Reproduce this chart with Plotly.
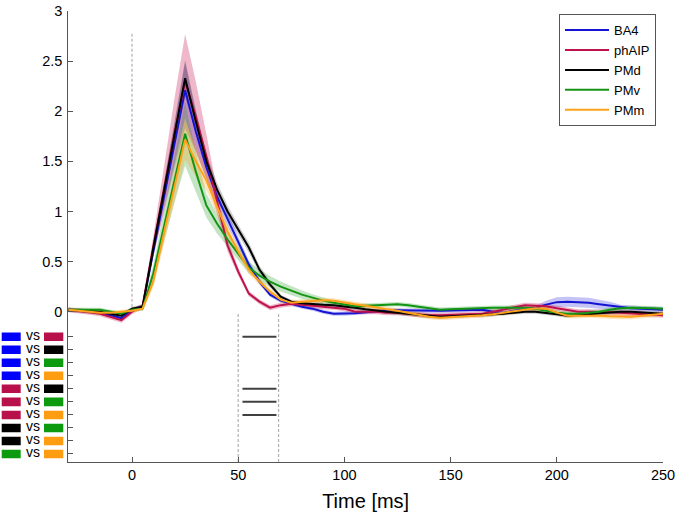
import plotly.graph_objects as go

# ---------------- data ----------------
time_ms = list(range(-30, 251, 5))

series_names = ["BA4", "phAIP", "PMd", "PMv", "PMm"]

ba4 = [0.02, 0.01, 0.0, -0.01, -0.035, -0.065, 0.02, 0.05, 0.6, 1.14, 1.68, 2.21,
       1.8, 1.44, 1.15, 0.92, 0.7, 0.47, 0.3, 0.17, 0.11, 0.08, 0.05, 0.03, 0.0,
       -0.02, -0.02, -0.015, -0.005, 0.005, 0.015, 0.015, 0.012, 0.01, 0.01, 0.01,
       0.012, 0.015, 0.02, 0.02, 0.0, -0.01, 0.01, 0.025, 0.04, 0.07, 0.095, 0.1,
       0.095, 0.09, 0.075, 0.06, 0.045, 0.035, 0.03, 0.025, 0.02]
phaip = [0.02, 0.01, -0.005, -0.02, -0.05, -0.085, 0.0, 0.06, 0.65, 1.22, 1.78, 2.30,
         1.95, 1.55, 1.1, 0.66, 0.4, 0.18, 0.1, 0.04, 0.065, 0.08, 0.07, 0.06, 0.05,
         0.045, 0.03, 0.0, 0.0, 0.0, -0.01, -0.01, -0.02, -0.03, -0.035, -0.035,
         -0.03, -0.025, -0.02, -0.02, 0.0, 0.02, 0.045, 0.065, 0.06, 0.055, 0.035,
         0.015, 0.0, 0.0, 0.0, -0.005, -0.01, -0.015, -0.02, -0.03, -0.035]
pmd = [0.02, 0.015, 0.005, 0.0, -0.02, -0.04, 0.03, 0.05, 0.63, 1.2, 1.77, 2.33,
       1.9, 1.5, 1.22, 1.0, 0.82, 0.64, 0.42, 0.27, 0.15, 0.10, 0.085, 0.075, 0.07,
       0.065, 0.055, 0.04, 0.025, 0.01, 0.0, -0.01, -0.02, -0.035, -0.045, -0.05,
       -0.045, -0.04, -0.035, -0.035, -0.03, -0.02, -0.01, 0.0, 0.0, -0.01, -0.025,
       -0.04, -0.035, -0.025, -0.015, -0.005, 0.0, 0.0, -0.005, -0.01, -0.02]
pmv = [0.02, 0.02, 0.02, 0.02, 0.0, -0.02, 0.02, 0.03, 0.38, 0.85, 1.32, 1.775,
       1.4, 1.06, 0.88, 0.72, 0.58, 0.44, 0.36, 0.3, 0.25, 0.21, 0.17, 0.14, 0.11,
       0.09, 0.07, 0.055, 0.06, 0.065, 0.07, 0.075, 0.065, 0.05, 0.035, 0.02, 0.025,
       0.03, 0.035, 0.04, 0.04, 0.04, 0.04, 0.04, 0.03, 0.01, -0.01, -0.02, -0.02,
       -0.01, 0.0, 0.02, 0.035, 0.04, 0.04, 0.035, 0.03]
pmm = [0.02, 0.01, 0.0, -0.01, -0.01, 0.0, 0.01, 0.03, 0.3, 0.78, 1.25, 1.715,
       1.5, 1.31, 1.05, 0.8, 0.6, 0.42, 0.3, 0.2, 0.12, 0.09, 0.1, 0.11, 0.115,
       0.11, 0.09, 0.075, 0.06, 0.04, 0.025, 0.01, -0.01, -0.03, -0.05, -0.06,
       -0.055, -0.045, -0.04, -0.035, -0.025, -0.01, 0.0, 0.015, 0.035, 0.03, -0.01,
       -0.04, -0.04, -0.035, -0.04, -0.045, -0.05, -0.05, -0.04, -0.03, -0.02]

# half-widths of the shaded confidence bands
ba4_ci = [0.02] * 8 + [0.06, 0.12, 0.2, 0.28, 0.2, 0.12, 0.09, 0.07, 0.05, 0.04, 0.03] + \
         [0.02] * 26 + [0.04, 0.05, 0.05, 0.05, 0.05, 0.045, 0.04] + [0.025] * 5
phaip_ci = [0.025] * 8 + [0.1, 0.22, 0.35, 0.47, 0.35, 0.22, 0.12, 0.06, 0.04] + [0.025] * 40
pmd_ci = [0.02] * 8 + [0.05, 0.09, 0.13, 0.18, 0.12, 0.08, 0.07, 0.06, 0.05, 0.05, 0.04, 0.03] + \
         [0.02] * 37
pmv_ci = [0.02] * 8 + [0.08, 0.15, 0.23, 0.32, 0.2, 0.12, 0.1, 0.08, 0.07, 0.06, 0.06, 0.055,
                       0.05, 0.045, 0.04, 0.035, 0.03] + [0.022] * 32
pmm_ci = [0.02] * 8 + [0.06, 0.1, 0.15, 0.2, 0.15, 0.1, 0.08, 0.06, 0.05, 0.045, 0.035, 0.03] + \
         [0.025] * 37

means = [ba4, phaip, pmd, pmv, pmm]
cis = [ba4_ci, phaip_ci, pmd_ci, pmv_ci, pmm_ci]

# pairwise comparisons (rows below the curves) and significant windows
pairs = [("BA4", "phAIP"), ("BA4", "PMd"), ("BA4", "PMv"), ("BA4", "PMm"),
         ("phAIP", "PMd"), ("phAIP", "PMv"), ("phAIP", "PMm"),
         ("PMd", "PMv"), ("PMd", "PMm"), ("PMv", "PMm")]
sig_start = [52, None, None, None, 52, 52, 52, None, None, None]
sig_end = [68, None, None, None, 68, 68, 68, None, None, None]
window_lines = [50, 69]

y_ticks = [0, 0.5, 1, 1.5, 2, 2.5, 3]
y_ticklabels = ["0", "0.5", "1", "1.5", "2", "2.5", "3"]
x_ticks = [0, 50, 100, 150, 200, 250]

# ---------------- style ----------------
line_colors = {"BA4": "#1414d2", "phAIP": "#c0124a", "PMd": "#000000",
               "PMv": "#149414", "PMm": "#ffa21a"}
box_colors = {"BA4": "#0000ff", "phAIP": "#b8104a", "PMd": "#000000",
              "PMv": "#0e9a0e", "PMm": "#ff9d12"}
band_colors = {"BA4": "rgba(40,40,220,0.28)", "phAIP": "rgba(200,20,80,0.30)",
               "PMd": "rgba(0,0,0,0.20)", "PMv": "rgba(20,150,20,0.25)",
               "PMm": "rgba(255,160,20,0.28)"}

FONT = "Liberation Sans, Arial, Helvetica, sans-serif"
row_top, row_step = -0.25, 0.13
row_y = [row_top - i * row_step for i in range(len(pairs))]

LEFT_PX, PLOT_W = 68.3, 663.0

fig = go.Figure()

# dashed reference lines
fig.add_trace(go.Scatter(x=[0, 0], y=[0, 2.78], mode="lines",
                         line=dict(color="#b0b0b0", width=1.2, dash="3px,2px"),
                         showlegend=False, hoverinfo="skip"))
for wl in window_lines:
    fig.add_trace(go.Scatter(x=[wl, wl], y=[-1.5, -0.01], mode="lines",
                             line=dict(color="#b0b0b0", width=1.2, dash="3px,2px"),
                             showlegend=False, hoverinfo="skip"))

# bands
for name, m, c in zip(series_names, means, cis):
    up = [a + b for a, b in zip(m, c)]
    lo = [a - b for a, b in zip(m, c)]
    fig.add_trace(go.Scatter(x=time_ms + time_ms[::-1], y=up + lo[::-1],
                             fill="toself", fillcolor=band_colors[name],
                             line=dict(width=0), mode="lines",
                             showlegend=False, hoverinfo="skip"))

# mean lines
for name, m in zip(series_names, means):
    fig.add_trace(go.Scatter(x=time_ms, y=m, mode="lines", name=name,
                             line=dict(color=line_colors[name], width=2)))

# significance bars
for yv, s, e in zip(row_y, sig_start, sig_end):
    if s is not None:
        fig.add_trace(go.Scatter(x=[s, e], y=[yv, yv], mode="lines",
                                 line=dict(color="#404040", width=2),
                                 showlegend=False, hoverinfo="skip"))

# comparison labels (colored boxes + "vs") on a helper axis in the left margin
fig.add_trace(go.Bar(orientation="h", y=row_y, x=[19] * len(pairs), base=[1.7] * len(pairs),
                     width=0.085, marker=dict(color=[box_colors[a] for a, b in pairs], line=dict(width=0)),
                     xaxis="x2", yaxis="y", showlegend=False, hoverinfo="skip"))
fig.add_trace(go.Bar(orientation="h", y=row_y, x=[19.3] * len(pairs), base=[44] * len(pairs),
                     width=0.085, marker=dict(color=[box_colors[b] for a, b in pairs], line=dict(width=0)),
                     xaxis="x2", yaxis="y", showlegend=False, hoverinfo="skip"))
fig.add_trace(go.Scatter(x=[33] * len(pairs), y=row_y, mode="text", text=["vs"] * len(pairs),
                         textfont=dict(family=FONT, size=14, color="black"),
                         xaxis="x2", yaxis="y", showlegend=False, hoverinfo="skip",
                         cliponaxis=False))

fig.update_layout(
    width=677, height=516,
    margin=dict(l=0, r=677 - PLOT_W, t=11, b=54),
    paper_bgcolor="white", plot_bgcolor="white",
    font=dict(family=FONT, color="black"),
    barmode="overlay",
    showlegend=True,
    hovermode=False,
    xaxis=dict(domain=[LEFT_PX / PLOT_W, 1], range=[-30, 250], tickvals=x_ticks,
               ticks="inside", ticklen=5, tickcolor="#555", showline=True,
               linecolor="#555", linewidth=1, showgrid=False, zeroline=False,
               tickfont=dict(size=14.5), anchor="y", ticklabelstandoff=0,
               title=dict(text="Time [ms]", font=dict(size=20), standoff=11)),
    xaxis2=dict(domain=[0, LEFT_PX / PLOT_W], range=[0, LEFT_PX], visible=False, anchor="y",
                fixedrange=True),
    yaxis=dict(range=[-1.5, 3], tickvals=y_ticks + row_y,
               ticktext=y_ticklabels + [""] * len(row_y),
               ticks="inside", ticklen=5, tickcolor="#555", showline=True,
               linecolor="#555", linewidth=1, showgrid=False, zeroline=False,
               tickfont=dict(size=14.5), anchor="x", ticklabelstandoff=2),
    legend=dict(x=656 / PLOT_W, y=0.993, xanchor="right", yanchor="top",
                bgcolor="white", bordercolor="#555", borderwidth=1,
                font=dict(size=13), tracegroupgap=0, itemwidth=44),
)

fig.write_html("out.html", config={"displayModeBar": False},
               post_script="document.body.style.margin='0';document.body.style.overflow='hidden';")
